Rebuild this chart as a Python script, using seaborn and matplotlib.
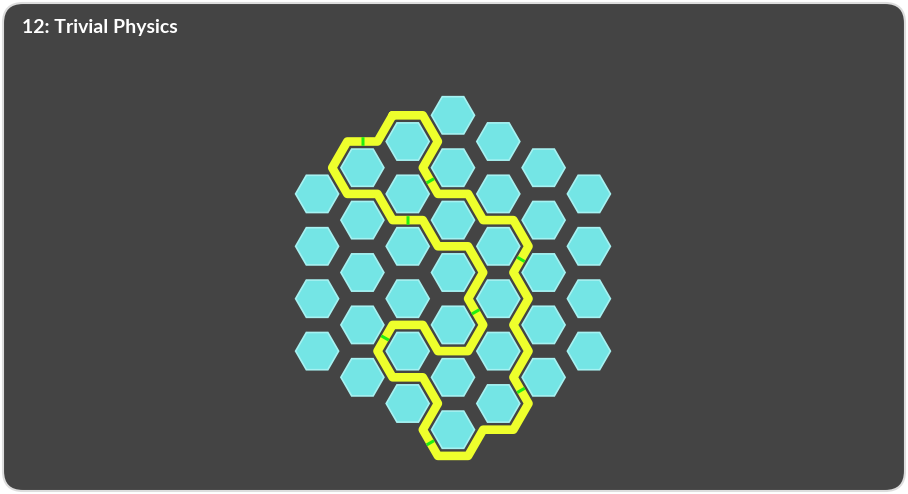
import numpy as np
import matplotlib
matplotlib.use("Agg")
import matplotlib.pyplot as plt
from matplotlib.patches import RegularPolygon, FancyBboxPatch
import seaborn as sns
import pandas as pd

# ---- data ----
title = "12: Trivial Physics"
column_counts = [4, 5, 6, 7, 6, 5, 4]          # hexes per column
path_start = (2, 0, "NW")                       # (column, row, corner of that hex)
path_steps = ["E","SE","SW","SE","E","SE","E","SE","SW","SE","SW","SE","SW","SE",
              "SW","W","SW","W","NW","NE","NW","W","NW","NE","E","SE","E","NE",
              "NW","NE","NW","W","NW","W","NW","W","NW","NE","E","NE"]
marked_steps = [4, 9, 14, 19, 24, 29, 34, 39]   # 1-based steps carrying a green mark

# ---- geometry/style ----
W, H = 908, 494
R = 30.2; h = 26.2
cx0, cy0 = 453, 272.5
dx, dy = 45.3, 52.4
hex_r = 21.5
BG = "#444444"; HEX = "#74e5e5"; HEX_EDGE = "#a6f2f2"; YEL = "#eeff2c"; GRN = "#22ee11"

sns.set_theme(style="white")
fig = plt.figure(figsize=(W/100, H/100), dpi=100)
fig.patch.set_facecolor("white")
ax = fig.add_axes([0, 0, 1, 1])
ax.set_xlim(0, W); ax.set_ylim(H, 0); ax.axis("off")
ax.add_patch(FancyBboxPatch((3, 3), W-6, H-6, boxstyle="round,pad=0,rounding_size=20",
                            fc=BG, ec="#dddddd", lw=1.5, zorder=0))

centers = {}
for i, n in enumerate(column_counts):
    for j in range(n):
        x = cx0 + (i-3)*dx
        y = cy0 + (j-(n-1)/2)*dy
        centers[(i, j)] = (x, y)
        ax.add_patch(RegularPolygon((x, y), 6, radius=hex_r, orientation=np.pi/6,
                                    fc=HEX, ec=HEX_EDGE, lw=1.2, zorder=1))

vec = {"E": (R, 0), "W": (-R, 0), "SE": (R/2, h), "SW": (-R/2, h),
       "NE": (R/2, -h), "NW": (-R/2, -h)}
c = centers[(path_start[0], path_start[1])]
off = vec[path_start[2]]
pts = [(c[0]+off[0], c[1]+off[1])]
for s in path_steps:
    v = vec[s]
    pts.append((pts[-1][0]+v[0], pts[-1][1]+v[1]))
df = pd.DataFrame(pts, columns=["x", "y"])
df["o"] = range(len(df))
ax.plot(df.x, df.y, color=YEL, lw=6.2, solid_joinstyle="round", solid_capstyle="round", zorder=2)

for k in marked_steps:
    (x1, y1), (x2, y2) = pts[k-1], pts[k]
    a, b = 0.45, 0.55
    ax.plot([x1+(x2-x1)*a, x1+(x2-x1)*b], [y1+(y2-y1)*a, y1+(y2-y1)*b],
            color=GRN, lw=6.2, solid_capstyle="butt", zorder=3)

ax.text(22, 28, title, color="white", fontsize=14, fontweight="bold",
        family=["Lato", "DejaVu Sans"], va="center", ha="left")

fig.savefig("out.png", dpi=100, facecolor=fig.get_facecolor())
